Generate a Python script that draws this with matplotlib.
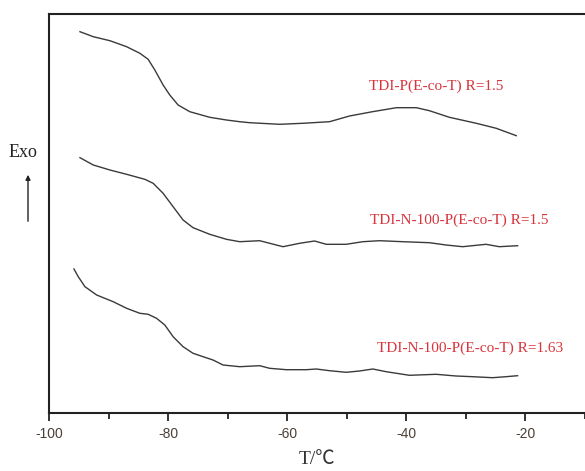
import matplotlib
matplotlib.use("Agg")
import matplotlib.pyplot as plt
from matplotlib.patches import FancyArrowPatch
from matplotlib.ticker import MultipleLocator

plt.rcParams["axes.unicode_minus"] = False

# DSC traces (temperature in °C, heat flow in arbitrary offset units)
t_a = [-94.80, -92.57, -89.77, -86.97, -84.74, -83.35, -82.23, -80.84, -79.72,
       -78.32, -76.36, -73.01, -70.21, -67.98, -66.30, -61.27, -57.42, -52.89,
       -49.54, -45.68, -41.66, -38.31, -36.13, -32.77, -28.25, -24.90, -21.54]
hf_a = [381.3, 376.3, 372.3, 366.3, 359.7, 353.7, 343.0, 328.0, 318.0,
        308.0, 301.3, 295.7, 293.0, 291.3, 290.3, 288.7, 289.7, 291.3,
        297.0, 301.3, 305.3, 305.3, 302.3, 295.7, 289.7, 284.7, 277.3]

t_b = [-94.80, -92.57, -89.77, -86.97, -83.91, -82.51, -80.84, -79.16, -77.49,
       -75.81, -73.01, -70.21, -67.98, -64.63, -60.72, -57.92, -55.41, -53.45,
       -50.09, -47.31, -44.51, -40.60, -36.13, -33.33, -30.54, -26.62, -24.39,
       -21.32]
hf_b = [255.3, 248.0, 243.0, 238.7, 233.7, 229.7, 219.7, 206.3, 193.0,
        185.3, 178.7, 173.7, 171.3, 172.3, 166.3, 169.7, 172.0, 168.7,
        168.7, 171.3, 172.3, 171.3, 170.3, 168.0, 166.3, 168.7, 166.3,
        167.3]

t_c = [-95.81, -95.09, -93.96, -92.00, -89.22, -86.97, -84.74, -83.35, -81.94,
       -80.55, -79.16, -77.49, -75.81, -74.13, -72.46, -70.78, -67.98, -64.63,
       -62.95, -60.15, -56.80, -55.12, -52.89, -50.09, -47.86, -45.63, -43.39,
       -39.48, -35.00, -31.65, -28.87, -25.52, -23.27, -21.32]
hf_c = [144.0, 136.3, 126.3, 118.0, 111.3, 104.7, 99.7, 98.7, 94.7,
        88.0, 76.3, 66.3, 59.7, 56.3, 53.0, 48.0, 46.3, 47.3,
        44.7, 43.3, 43.3, 44.0, 42.3, 40.7, 42.0, 44.0, 41.3,
        37.7, 38.7, 37.0, 36.3, 35.3, 36.3, 37.3]

labels = ["TDI-P(E-co-T) R=1.5",
          "TDI-N-100-P(E-co-T) R=1.5",
          "TDI-N-100-P(E-co-T) R=1.63"]
label_pos = [(-46.3, 327), (-46.1, 193), (-44.9, 65)]

x_ticks = [-100, -80, -60, -40, -20]

serif = ["Liberation Serif", "Noto Sans CJK SC", "DejaVu Serif", "DejaVu Sans"]

fig = plt.figure(figsize=(5.85, 4.71), dpi=100)
ax = fig.add_axes([49 / 585, 1 - 413 / 471, 1 - 49 / 585, 399 / 471])

line_kw = dict(color="#3a3a3a", lw=1.0)
ax.plot(t_a, hf_a, **line_kw)
ax.plot(t_b, hf_b, **line_kw)
ax.plot(t_c, hf_c, **line_kw)

for text, (x, y) in zip(labels, label_pos):
    ax.text(x, y, text, color="#d8343c", fontsize=11, family=serif,
            ha="left", va="center")

ax.set_xlim(-100, -10)
ax.set_ylim(0, 399)
ax.set_xticks(x_ticks)
ax.xaxis.set_minor_locator(MultipleLocator(10))
ax.set_yticks([])
ax.tick_params(axis="x", which="major", direction="out", length=6, width=1.3,
               labelsize=10, colors="#222222", labelcolor="#4a4038", pad=4)
ax.tick_params(axis="x", which="minor", direction="out", length=4, width=1.3,
               colors="#222222")
for lbl in ax.get_xticklabels():
    lbl.set_family("Liberation Sans")

for side in ("left", "top", "bottom"):
    ax.spines[side].set_linewidth(1.5)
    ax.spines[side].set_color("#222222")
ax.spines["right"].set_visible(False)

ax.set_xlabel("T/\u2103", family=serif, fontsize=14, color="#333333", labelpad=7)

fig.text(23 / 585, 1 - 153 / 471, "Exo", family=serif, fontsize=13,
         ha="center", va="center", color="#222222")
fig.add_artist(FancyArrowPatch(
    (28 / 585, 1 - 224 / 471), (28 / 585, 1 - 172 / 471),
    transform=fig.transFigure, arrowstyle="-|>", mutation_scale=7,
    color="#222222", lw=1.0))

fig.savefig("out.png", dpi=100)
